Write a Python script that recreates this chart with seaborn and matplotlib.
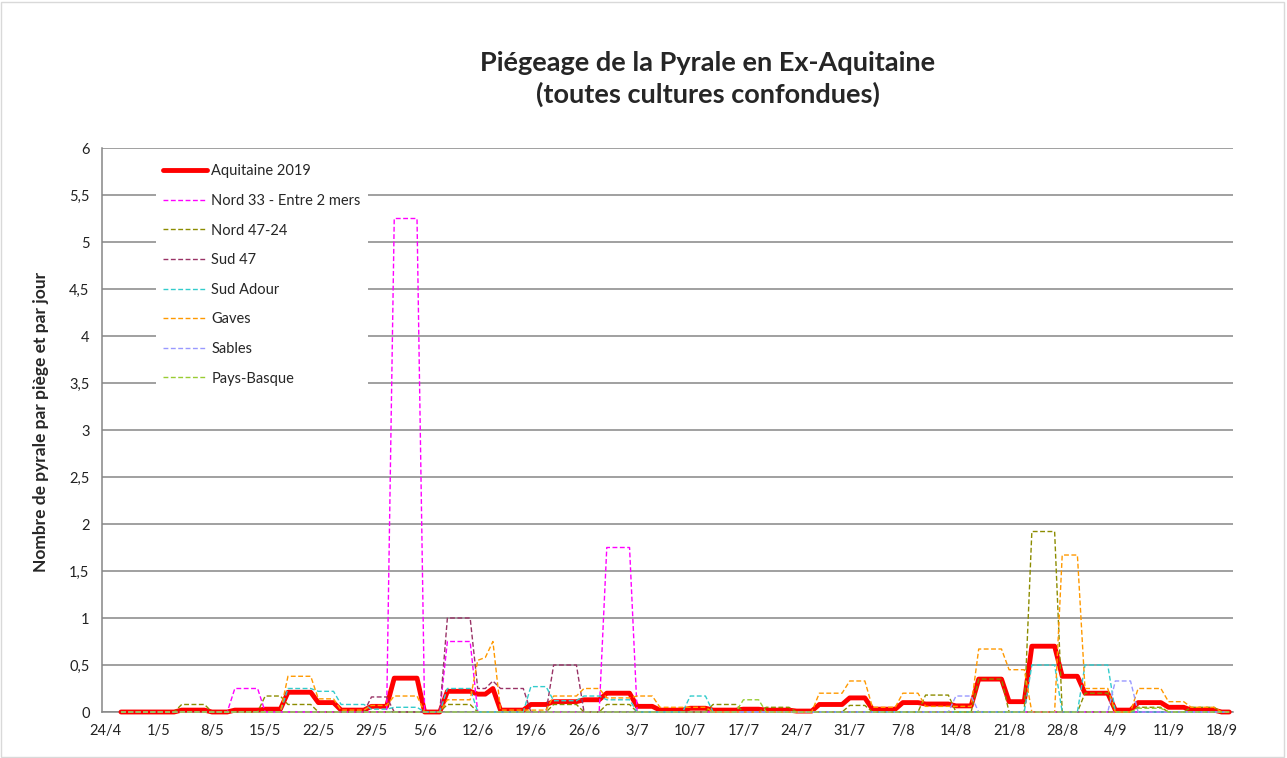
import numpy as np
import pandas as pd
import seaborn as sns
import matplotlib.pyplot as plt
from matplotlib.patches import Rectangle

# day 0 = 24/4/2019 ; one value per day from day 2 to day 148
first_day, last_day = 2, 148

week_labels = ["24/4", "1/5", "8/5", "15/5", "22/5", "29/5", "5/6", "12/6",
               "19/6", "26/6", "3/7", "10/7", "17/7", "24/7", "31/7", "7/8",
               "14/8", "21/8", "28/8", "4/9", "11/9", "18/9"]
y_ticks = [0, 0.5, 1, 1.5, 2, 2.5, 3, 3.5, 4, 4.5, 5, 5.5, 6]
y_labels = ["0", "0,5", "1", "1,5", "2", "2,5", "3", "3,5", "4", "4,5",
            "5", "5,5", "6"]

# each series: day where a new trap reading starts, and its value per day
aquitaine_days = [2, 10, 14, 17, 21, 24, 28, 31, 35, 38, 42, 45, 49, 51, 52,
                  56, 59, 63, 66, 70, 73, 77, 80, 84, 87, 91, 94, 98, 101,
                  105, 108, 112, 115, 119, 122, 126, 129, 133, 136, 140, 143,
                  147]
aquitaine_vals = [0, 0.02, 0, 0.02, 0.03, 0.21, 0.1, 0.02, 0.06, 0.36, 0,
                  0.22, 0.19, 0.25, 0.02, 0.08, 0.11, 0.13, 0.2, 0.06, 0.02,
                  0.04, 0.02, 0.03, 0.02, 0.01, 0.08, 0.15, 0.03, 0.1, 0.085,
                  0.065, 0.35, 0.11, 0.7, 0.38, 0.2, 0.02, 0.1, 0.05, 0.02, 0]

nord33_days = [2, 17, 21, 38, 42, 45, 49, 66, 70]
nord33_vals = [0, 0.25, 0, 5.25, 0, 0.75, 0, 1.75, 0]

nord47_days = [2, 10, 14, 21, 24, 28, 45, 49, 59, 63, 66, 70, 80, 84, 87, 91,
               98, 101, 108, 112, 115, 119, 122, 126, 129, 133, 136, 140,
               143, 147]
nord47_vals = [0, 0.08, 0, 0.17, 0.08, 0, 0.08, 0, 0.08, 0, 0.08, 0, 0.08,
               0, 0.05, 0, 0.07, 0, 0.18, 0, 0.35, 0, 1.92, 0, 0.2, 0, 0.05,
               0, 0.05, 0]

sud47_days = [2, 35, 38, 45, 49, 51, 52, 56, 59, 63]
sud47_vals = [0, 0.16, 0, 1.0, 0.25, 0.33, 0.25, 0, 0.5, 0]

sudadour_days = [2, 24, 28, 31, 35, 38, 42, 45, 49, 56, 59, 63, 66, 70, 77,
                 80, 122, 126, 129, 133]
sudadour_vals = [0, 0.25, 0.22, 0.08, 0.03, 0.05, 0, 0.25, 0, 0.27, 0.12,
                 0.17, 0.13, 0, 0.17, 0, 0.5, 0, 0.5, 0]

gaves_days = [2, 24, 28, 31, 35, 38, 42, 45, 49, 50, 51, 52, 59, 63, 66, 70,
              73, 80, 94, 98, 101, 105, 108, 115, 119, 122, 126, 129, 133,
              136, 140, 143, 147]
gaves_vals = [0, 0.38, 0.14, 0.02, 0.07, 0.17, 0, 0.13, 0.55, 0.58, 0.75,
              0.02, 0.17, 0.25, 0.15, 0.17, 0.05, 0, 0.2, 0.33, 0.05, 0.2,
              0.06, 0.67, 0.45, 0, 1.67, 0.25, 0, 0.25, 0.11, 0.05, 0]

sables_days = [2, 112, 115, 133, 136]
sables_vals = [0, 0.17, 0, 0.33, 0]

paysbasque_days = [2, 84, 87, 136, 140]
paysbasque_vals = [0, 0.13, 0, 0.04, 0]

series = [
    ("Aquitaine 2019", aquitaine_days, aquitaine_vals, "#FF0000"),
    ("Nord 33 - Entre 2 mers", nord33_days, nord33_vals, "#FF00FF"),
    ("Nord 47-24", nord47_days, nord47_vals, "#8C8C00"),
    ("Sud 47", sud47_days, sud47_vals, "#993366"),
    ("Sud Adour", sudadour_days, sudadour_vals, "#33CCCC"),
    ("Gaves", gaves_days, gaves_vals, "#FF9900"),
    ("Sables", sables_days, sables_vals, "#9999FF"),
    ("Pays-Basque", paysbasque_days, paysbasque_vals, "#99CC33"),
]

days = np.arange(first_day, last_day + 1)
frames = []
for name, chg, vals, _ in series:
    idx = np.searchsorted(chg, days, side="right") - 1
    frames.append(pd.DataFrame({"day": days, "value": np.asarray(vals)[idx],
                                "zone": name}))
df = pd.concat(frames, ignore_index=True)

sns.set_style("white")
plt.rcParams["font.family"] = ["Lato", "DejaVu Sans"]

fig = plt.figure(figsize=(12.87, 7.58), dpi=100)
ax = fig.add_axes([102 / 1287, 1 - 712 / 758, 1131 / 1287, 564 / 758])

for name, _, _, col in series:
    sub = df[df["zone"] == name]
    if name == "Aquitaine 2019":
        sns.lineplot(data=sub, x="day", y="value", ax=ax, color=col, lw=3.5,
                     estimator=None, label=name, clip_on=False, zorder=3)
    else:
        sns.lineplot(data=sub, x="day", y="value", ax=ax, color=col, lw=1.0,
                     linestyle=(0, (3.5, 1.8)), estimator=None, label=name,
                     clip_on=False, zorder=4)

grey = "#868686"
ax.set_xlim(-0.5, 148.5)
ax.set_ylim(0, 6)
ax.set_yticks(y_ticks)
ax.set_yticklabels(y_labels)
ax.set_xticks([7 * i - 0.5 for i in range(len(week_labels))])
ax.set_xticklabels([])
ax.set_xticks([7 * i for i in range(len(week_labels))], minor=True)
ax.set_xticklabels(week_labels, minor=True)
ax.tick_params(axis="x", which="major", length=6, color=grey, width=1)
ax.tick_params(axis="x", which="minor", length=0, labelsize=10.5,
               labelcolor="#222222", pad=9)
ax.tick_params(axis="y", length=5, color=grey, width=1, labelsize=10.5,
               labelcolor="#222222", pad=4)
ax.yaxis.grid(True, color=grey, lw=1.1)
ax.set_axisbelow(True)
for s in ["top", "right"]:
    ax.spines[s].set_visible(False)
for s in ["left", "bottom"]:
    ax.spines[s].set_color(grey)
    ax.spines[s].set_linewidth(1.1)

ax.set_xlabel("")
ax.set_ylabel("Nombre de pyrale par piège et par jour", fontsize=12.5,
              fontweight="bold")
ax.yaxis.set_label_coords(-0.047, 0.514)

ax.legend(loc="upper left", bbox_to_anchor=(156 / 1287, 1 - 157 / 758),
          bbox_transform=fig.transFigure, fontsize=10.5, frameon=True,
          facecolor="white", edgecolor="none", framealpha=1,
          handlelength=3.0, handletextpad=0.3, labelspacing=1.07,
          borderpad=0.5, borderaxespad=0)

fig.text(708 / 1287, 1 - 79 / 758,
         "Piégeage de la Pyrale en Ex-Aquitaine\n(toutes cultures confondues)",
         ha="center", va="center", fontsize=19.5, fontweight="bold",
         linespacing=1.28)

fig.patches.append(Rectangle((0.001, 0.001), 0.997, 0.997,
                             transform=fig.transFigure, fill=False,
                             edgecolor="#d9d9d9", lw=1))

fig.savefig("out.png", dpi=100)
